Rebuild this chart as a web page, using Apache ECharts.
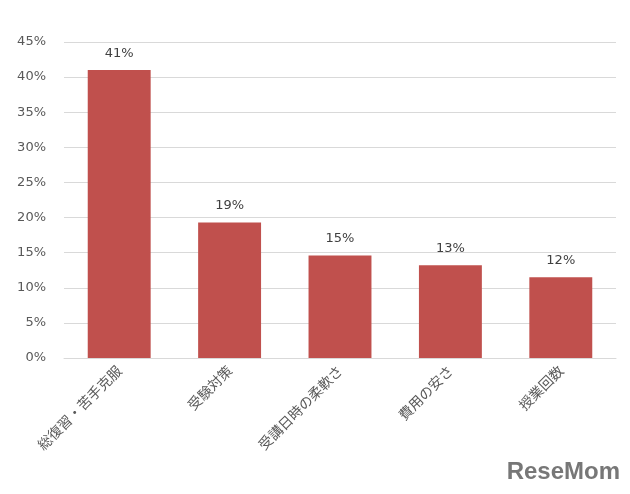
<!DOCTYPE html><html><head><meta charset="utf-8"><script src="https://cdn.jsdelivr.net/npm/echarts@6/dist/echarts.min.js"></script></head><body style="margin:0;background:#fff"><div id="c" style="width:630px;height:494px"></div><script>
const categories=["総復習・苦手克服","受験対策","受講日時の柔軟さ","費用の安さ","授業回数"];
const values=[41.0,19.3,14.6,13.2,11.5];
const labels=["41%","19%","15%","13%","12%"];
const c=echarts.init(document.getElementById('c'));
c.setOption({animation:false,
grid:{left:64,right:14,top:42,bottom:136},
xAxis:{type:'category',data:categories,axisTick:{show:false},axisLine:{lineStyle:{color:'#d9d9d9'}},
 axisLabel:{rotate:45,color:'#595959',fontSize:14,fontFamily:'Noto Sans CJK JP',margin:10,interval:0}},
yAxis:{type:'value',min:0,max:45,interval:5,axisLabel:{formatter:'{value}%',color:'#595959',fontSize:13,fontFamily:'DejaVu Sans',margin:18},
 splitLine:{lineStyle:{color:'#d9d9d9'}},axisLine:{show:false}},
series:[{type:'bar',data:values,barWidth:'57%',itemStyle:{color:'#c0504d'},
 label:{show:true,position:'top',distance:10,color:'#404040',fontSize:13,fontFamily:'DejaVu Sans',formatter:p=>labels[p.dataIndex]}}],
graphic:[{type:'text',right:10,bottom:10,style:{text:'ReseMom',fontSize:24,fontWeight:'bold',fill:'#777',fontFamily:'Liberation Sans Narrow, Liberation Sans'}}]
});
</script></body></html>
